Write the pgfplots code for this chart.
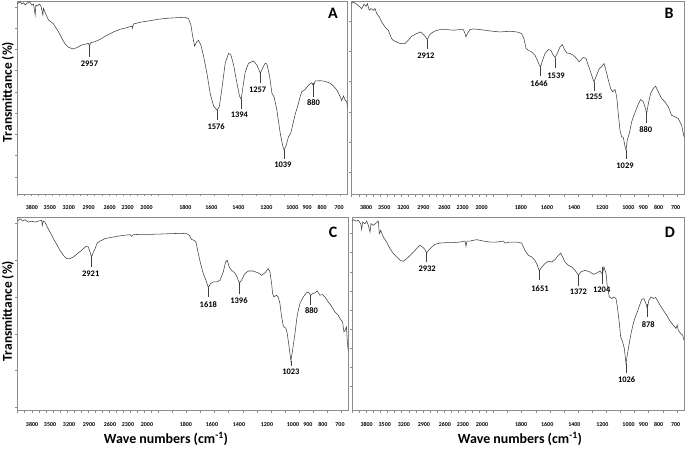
\documentclass[border=0pt]{standalone}
\usepackage{fontspec}
\setmainfont{Carlito}
\usepackage{pgfplots}
\pgfplotsset{compat=1.18}
\pgfplotsset{x coord trafo/.code={\pgfmathparse{#1>2000 ? 2000+(#1-2000)/2 : #1}}}
\newcommand{\pk}{\bfseries\fontsize{8.5}{10}\selectfont}
\pgfplotsset{
  ftir/.style={
    scale only axis, height=193bp, anchor=south west,
    xmin=650, xmax=4000, x dir=reverse, ymin=0,
    axis line style={draw=black!45, line width=0.6bp},
    xtick={3796,3540,3270,2986,2688,2432,2162,1804,1619,1427,1228,1043,937,830,709},
    xticklabels={3800,3500,3200,2900,2600,2300,2000,1800,1600,1400,1200,1000,900,800,700},
    minor xtick={700,800,...,4000},
    xtick pos=bottom, ytick pos=left,
    major x tick style={draw=none},
    tick align=outside,
    minor tick length=2.5bp, major tick length=2.5bp,
    tick style={draw=black!45, line width=0.5bp},
    yticklabels={},
    xticklabel style={font=\bfseries\fontsize{6}{7}\selectfont, anchor=center, yshift=-11bp},
  },
  sp/.style={black!75, line width=0.55bp, mark=none},
  mk/.style={black!75, line width=0.5bp, mark=none}
}
\begin{document}
\begin{tikzpicture}
\useasboundingbox (0,0) rectangle (685bp,449bp);
% ---------------- A
\begin{axis}[ftir, at={(17.5bp,255bp)}, width=330bp, ymax=193,
  ytick={17,38.25,59.5,80.75,102,123.25,144.5,165.75,187}]
\addplot[sp] coordinates {(4000,190)(3986,191.3)(3962,192.3)(3938,190)(3915,191.3)(3891,189)(3867,190.7)(3829,192.3)(3796,189)(3772,190)(3748,179)(3739,189)(3715,188)(3687,190)(3663,187.3)(3639,179)(3630,185.7)(3592,179)(3559,174)(3525,172.3)(3487,170)(3449,165.7)(3416,162.3)(3369,155.7)(3321,150)(3274,146.7)(3203,145)(3146,146.7)(3084,149)(3022,150)(2989,150.7)(2975,148)(2956,151.3)(2894,152.3)(2823,154.7)(2728,158.7)(2633,162)(2538,164.7)(2443,166.3)(2372,168)(2362,165.7)(2348,170)(2253,171.7)(2111,173.3)(2000,174.7)(1936,175.7)(1865,176.3)(1806,176.7)(1782,175.3)(1765,169)(1754,159)(1739,148)(1723,152.3)(1711,153.7)(1694,149)(1675,138)(1651,120.7)(1628,100.7)(1604,88)(1580,84)(1563,87.3)(1544,105.7)(1521,130.7)(1497,140.7)(1480,139)(1461,129)(1438,111.3)(1419,98)(1407,94.7)(1395,106.7)(1378,122.3)(1355,130.7)(1319,133)(1295,129)(1271,120.7)(1255,125.7)(1236,130.7)(1224,130)(1205,118)(1188,100.7)(1172,96.7)(1153,84)(1129,60.7)(1110,47.3)(1101,44)(1086,49)(1070,57.3)(1053,61.3)(1039,70)(1022,80)(1006,87.3)(987,97.3)(975,102.3)(951,104.7)(927,109)(904,111.3)(892,108)(880,113)(844,113.3)(809,112.7)(773,110.7)(750,108)(726,104)(702,97.3)(691,93.3)(679,98)(667,94)(655,92.3)(643,77.3)};
\addplot[mk] coordinates {(2975,149)(2975,136.7)};
\addplot[mk] coordinates {(1580,84)(1580,74)};
\addplot[mk] coordinates {(1407,94.7)(1407,84.7)};
\addplot[mk] coordinates {(1271,120.7)(1271,110.7)};
\addplot[mk] coordinates {(1101,44)(1101,34.7)};
\addplot[mk] coordinates {(892,110.7)(892,97.3)};
\node[font=\pk] at (axis cs:2975,130.7) {2957};
\node[font=\pk] at (axis cs:1585,67.3) {1576};
\node[font=\pk] at (axis cs:1420,79) {1394};
\node[font=\pk] at (axis cs:1290,104) {1257};
\node[font=\pk] at (axis cs:1110,29) {1039};
\node[font=\pk] at (axis cs:892,91.7) {880};
\end{axis}
% ---------------- B
\begin{axis}[ftir, at={(351.7bp,254.7bp)}, width=332.3bp, ymax=193.3,
  ytick={22,52.3,82.6,112.9,143.2,173.5}]
\addplot[sp] coordinates {(4000,191)(3977,192.6)(3930,190.3)(3883,187.6)(3859,186)(3826,190.3)(3798,188.3)(3779,191)(3751,184.3)(3727,186)(3694,184.3)(3670,186)(3647,181)(3609,177.6)(3576,172.6)(3529,167.6)(3482,164.3)(3435,156)(3412,154.3)(3364,152.6)(3317,151)(3246,151)(3199,154.3)(3152,158.3)(3081,161)(3024,162.6)(2987,160)(2963,158.3)(2930,155)(2902,159.3)(2869,161.6)(2822,163.6)(2751,165)(2657,165)(2562,164.3)(2468,165)(2421,165)(2397,161)(2383,157.6)(2364,161)(2327,165)(2280,165.6)(2186,165)(2044,163.6)(1951,162.6)(1881,163.3)(1833,162.6)(1798,161)(1782,156)(1767,146)(1751,144.3)(1727,142.6)(1704,139.3)(1687,134.3)(1673,129.3)(1664,127.6)(1650,134.3)(1633,141)(1609,145)(1593,144.3)(1574,139.3)(1562,137)(1546,141)(1527,147.6)(1510,150)(1499,146)(1480,141.6)(1456,141)(1433,139.3)(1409,136)(1393,132.6)(1381,134.3)(1362,137)(1343,136)(1327,129.3)(1303,119.3)(1287,112.6)(1268,119.3)(1249,126)(1233,127.6)(1216,131)(1202,124.3)(1185,114.3)(1169,106)(1155,102.6)(1138,105)(1126,97.6)(1115,81)(1103,64.3)(1091,57.6)(1079,57)(1067,47.6)(1060,44.3)(1051,54.3)(1037,61)(1020,72.6)(1008,77.6)(990,84.3)(973,90.3)(956,95)(937,92.6)(926,87.6)(914,81)(902,91)(886,101)(867,106)(851,108.3)(832,102.6)(808,96)(785,92.6)(761,87.6)(738,79.3)(714,77.6)(691,76)(667,69.3)(650,57.6)};
\addplot[mk] coordinates {(2930,155)(2930,146)};
\addplot[mk] coordinates {(1664,127.6)(1664,118.3)};
\addplot[mk] coordinates {(1562,137)(1562,126)};
\addplot[mk] coordinates {(1287,112.6)(1287,103.6)};
\addplot[mk] coordinates {(1060,44.3)(1060,35)};
\addplot[mk] coordinates {(914,81)(914,71.6)};
\node[font=\pk] at (axis cs:2950,138.3) {2912};
\node[font=\pk] at (axis cs:1675,111) {1646};
\node[font=\pk] at (axis cs:1555,118.6) {1539};
\node[font=\pk] at (axis cs:1287,97.6) {1255};
\node[font=\pk] at (axis cs:1067,28.6) {1029};
\node[font=\pk] at (axis cs:920,64.3) {880};
\end{axis}
% ---------------- C
\begin{axis}[ftir, at={(17.7bp,38.3bp)}, width=330.6bp, ymax=193.4,
  ytick={3.6,40.3,77,113.7,150.7,187.4}]
\addplot[sp] coordinates {(4000,190)(3991,190.7)(3967,192.4)(3929,190)(3896,191.4)(3849,189)(3801,190)(3754,189)(3707,190)(3659,190.7)(3650,185.7)(3636,190)(3612,189)(3579,184)(3541,179)(3503,174)(3479,170.7)(3437,165.7)(3399,160.7)(3351,155.7)(3304,152.4)(3256,152.4)(3209,154)(3152,157.4)(3091,160.7)(3029,164.7)(2996,164)(2972,159)(2948,154)(2925,159)(2901,162.4)(2868,168)(2830,170)(2759,172.4)(2688,173.4)(2593,174.7)(2498,175.7)(2403,176.4)(2380,174.7)(2356,176.4)(2261,176.7)(2119,176.7)(1989,177)(1918,177.4)(1847,177.7)(1799,177.4)(1780,175.7)(1764,171.7)(1747,170.7)(1733,169)(1716,157.4)(1700,147.4)(1681,137.4)(1662,130.7)(1645,123.4)(1629,127.4)(1610,129)(1586,129)(1562,130.7)(1539,139)(1522,149)(1510,150.7)(1496,144)(1480,140.7)(1456,138)(1439,133.4)(1425,128)(1409,130.7)(1385,137.4)(1361,140)(1326,140)(1290,138)(1266,135.7)(1243,138)(1219,142.4)(1207,139)(1195,127.4)(1188,117.4)(1179,114)(1160,115.7)(1148,114)(1136,107.4)(1124,94)(1112,84.7)(1093,82.4)(1084,77.4)(1074,67.4)(1065,57.4)(1058,50)(1046,60.7)(1029,77.4)(1013,95.7)(994,107.4)(970,114)(947,118)(935,119)(918,115.7)(904,117.4)(887,118)(871,120)(852,115.7)(833,116.4)(816,114)(793,109)(769,104.7)(745,99)(722,95.7)(705,91.4)(691,89)(681,79)(672,80.7)(663,84)(656,67.4)(651,60.7)};
\addplot[mk] coordinates {(2948,154)(2948,144)};
\addplot[mk] coordinates {(1645,123.4)(1645,114)};
\addplot[mk] coordinates {(1425,128)(1425,116.7)};
\addplot[mk] coordinates {(1058,50)(1058,45)};
\addplot[mk] coordinates {(918,115.7)(918,105.7)};
\node[font=\pk] at (axis cs:2962,137.4) {2921};
\node[font=\pk] at (axis cs:1645,106.7) {1618};
\node[font=\pk] at (axis cs:1427,110.7) {1396};
\node[font=\pk] at (axis cs:1058,39) {1023};
\node[font=\pk] at (axis cs:912,100) {880};
\end{axis}
% ---------------- D
\begin{axis}[ftir, at={(352.3bp,38.3bp)}, width=331.7bp, ymax=193.4,
  ytick={24.6,43.7,62.7,81.7,100.7,119.7,138.7,158.7,177.7}]
\addplot[sp] coordinates {(4000,190)(3985,191.4)(3948,190)(3915,190.7)(3881,187.4)(3867,181.4)(3853,189)(3820,187.4)(3796,190)(3773,185.7)(3749,179)(3735,187.4)(3702,185.7)(3664,188)(3631,190)(3617,177.4)(3598,180.7)(3560,174)(3513,169)(3466,162.4)(3417,157.4)(3371,154)(3323,150.7)(3276,149.7)(3229,152.4)(3181,155.7)(3134,159)(3088,162.4)(3041,165.7)(3003,164)(2969,161.4)(2946,158)(2922,160.7)(2876,164)(2828,166.7)(2757,168)(2663,168.4)(2569,168.4)(2474,169)(2403,170)(2389,164.7)(2375,170)(2333,170)(2238,171.4)(2144,170)(2050,169)(1977,169)(1930,170)(1918,168)(1883,169)(1835,169)(1800,168)(1777,160.7)(1753,155.7)(1729,154)(1706,150.7)(1689,145.7)(1675,140)(1658,144)(1635,147.4)(1611,149.7)(1588,149)(1564,151.4)(1540,155.7)(1524,158)(1510,154)(1493,149)(1469,145.7)(1446,144)(1422,140.7)(1398,135.7)(1382,139)(1351,140.7)(1316,139)(1292,136.7)(1268,138)(1245,140)(1228,136.7)(1217,144)(1202,137.4)(1193,124)(1179,114)(1162,112.4)(1146,114)(1132,112.4)(1122,104)(1108,87.4)(1099,74)(1085,69)(1073,62.4)(1061,47.4)(1052,55.7)(1038,67.4)(1023,79)(1009,87.4)(995,94)(981,99)(967,104.7)(950,111.4)(934,112.4)(920,107.4)(910,102.4)(899,110.7)(884,114)(868,112.4)(851,113.4)(832,109)(816,104.7)(797,100.7)(773,95.7)(750,90)(726,85.7)(707,82.4)(698,85.7)(691,80.7)(674,77.4)(660,75.7)(650,70.7)};
\addplot[mk] coordinates {(2946,158)(2946,149)};
\addplot[mk] coordinates {(1675,140)(1675,130.7)};
\addplot[mk] coordinates {(1398,135.7)(1398,124.7)};
\addplot[mk] coordinates {(1228,144)(1228,127.4)};
\addplot[mk] coordinates {(1061,47.4)(1061,37.4)};
\addplot[mk] coordinates {(910,106.7)(910,94)};
\node[font=\pk] at (axis cs:2940,142.4) {2932};
\node[font=\pk] at (axis cs:1670,122.4) {1651};
\node[font=\pk] at (axis cs:1398,119) {1372};
\node[font=\pk] at (axis cs:1233,120.7) {1204};
\node[font=\pk] at (axis cs:1056,30.7) {1026};
\node[font=\pk] at (axis cs:903,86.7) {878};
\end{axis}
% ---------------- titles
\node[font=\bfseries\fontsize{16}{18}\selectfont] at (333bp,436bp) {A};
\node[font=\bfseries\fontsize{16}{18}\selectfont] at (669bp,436bp) {B};
\node[font=\bfseries\fontsize{16}{18}\selectfont] at (333bp,217bp) {C};
\node[font=\bfseries\fontsize{16}{18}\selectfont] at (670bp,217bp) {D};
\node[font=\bfseries\fontsize{13.5}{15}\selectfont, rotate=90] at (8bp,357bp) {Transmittance (\%)};
\node[font=\bfseries\fontsize{13.5}{15}\selectfont, rotate=90] at (8bp,138bp) {Transmittance (\%)};
\node[font=\bfseries\fontsize{14}{16}\selectfont] at (166bp,10bp) {Wave numbers (cm\textsuperscript{-1})};
\node[font=\bfseries\fontsize{14}{16}\selectfont] at (520bp,10bp) {Wave numbers (cm\textsuperscript{-1})};
\end{tikzpicture}
\end{document}
